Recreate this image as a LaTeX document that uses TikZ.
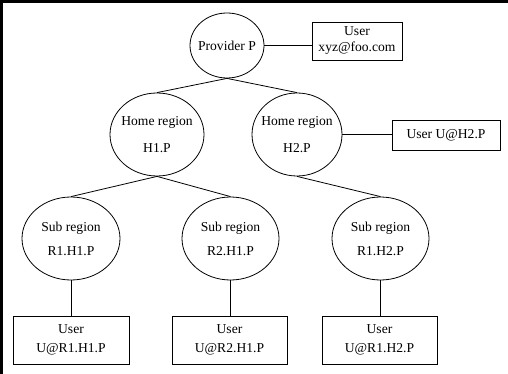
\documentclass[tikz,border=0pt]{standalone}
\usepackage{fontspec}
\setmainfont{Liberation Serif}
\usetikzlibrary{shapes.geometric}
\begin{document}
\begin{tikzpicture}[x=1pt,y=-1pt,
  every node/.style={font=\fontsize{13.6}{15}\selectfont},
  region/.style={draw,ellipse,inner sep=0pt,line width=0.8pt},
  userbox/.style={draw,rectangle,inner sep=0pt,line width=0.8pt,align=center},
  link/.style={line width=0.8pt}]
\useasboundingbox (0,0) rectangle (508,374);
% frame along the top and left edges
\draw[line width=3pt] (1.5,374) -- (1.5,1.5) -- (508,1.5);

% provider and its user
\node[region,minimum width=74pt,minimum height=65pt,
  label={center:Provider P}] (p) at (227,45.5) {};
\node[userbox,minimum width=90pt,minimum height=38pt] (u0) at (357,41)
  {User\\[1pt]xyz@foo.com};

% home regions
\node[region,minimum width=94pt,minimum height=83pt,
  label={[align=center]center:Home region\\[12pt]H1.P}] (h1) at (157,134.5) {};
\node[region,minimum width=90pt,minimum height=83pt,
  label={[align=center]center:Home region\\[12pt]H2.P}] (h2) at (297,134.5) {};
\node[userbox,minimum width=108pt,minimum height=30pt] (u2) at (446,135)
  {User U@H2.P};

% sub regions
\node[region,minimum width=98pt,minimum height=83pt,
  label={[align=center]center:Sub region\\[9pt]R1.H1.P}] (s1) at (71,238.5) {};
\node[region,minimum width=97pt,minimum height=83pt,
  label={[align=center]center:Sub region\\[9pt]R2.H1.P}] (s2) at (230.5,238.5) {};
\node[region,minimum width=97pt,minimum height=83pt,
  label={[align=center]center:Sub region\\[9pt]R1.H2.P}] (s3) at (380.5,238.5) {};

% users of the sub regions
\node[userbox,minimum width=116pt,minimum height=48pt] (b1) at (71,340)
  {User\\[4pt]U@R1.H1.P};
\node[userbox,minimum width=115pt,minimum height=48pt] (b2) at (229.5,340)
  {User\\[4pt]U@R2.H1.P};
\node[userbox,minimum width=115pt,minimum height=48pt] (b3) at (379.5,340)
  {User\\[4pt]U@R1.H2.P};

% tree edges
\draw[link] (p.south) -- (h1.north);
\draw[link] (p.south) -- (h2.north);
\draw[link] (h1.south) -- (s1.north);
\draw[link] (h1.south) -- (s2.north);
\draw[link] (h2.south) -- (s3.north);

% attachments to users
\draw[link] (p.east) -- (p.east -| u0.west);
\draw[link] (h2.east) -- (h2.east -| u2.west);
\draw[link] (s1.south) -- (s1.south |- b1.north);
\draw[link] (s2.south) -- (s2.south |- b2.north);
\draw[link] (s3.south) -- (s3.south |- b3.north);
\end{tikzpicture}
\end{document}
